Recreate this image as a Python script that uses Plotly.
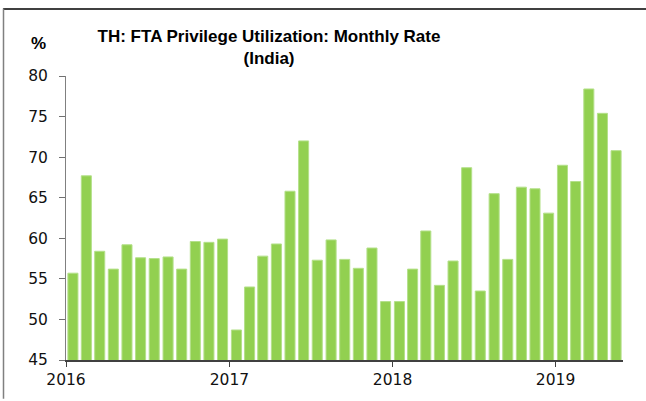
import plotly.graph_objects as go

months = [
    "2016-01", "2016-02", "2016-03", "2016-04", "2016-05", "2016-06",
    "2016-07", "2016-08", "2016-09", "2016-10", "2016-11", "2016-12",
    "2017-01", "2017-02", "2017-03", "2017-04", "2017-05", "2017-06",
    "2017-07", "2017-08", "2017-09", "2017-10", "2017-11", "2017-12",
    "2018-01", "2018-02", "2018-03", "2018-04", "2018-05", "2018-06",
    "2018-07", "2018-08", "2018-09", "2018-10", "2018-11", "2018-12",
    "2019-01", "2019-02", "2019-03", "2019-04", "2019-05",
]
rate = [
    55.7, 67.7, 58.4, 56.2, 59.2, 57.6, 57.5, 57.7, 56.2, 59.6, 59.5, 59.9,
    48.7, 54.0, 57.8, 59.3, 65.8, 72.0, 57.3, 59.8, 57.4, 56.3, 58.8, 52.2,
    52.2, 56.2, 60.9, 54.2, 57.2, 68.7, 53.5, 65.5, 57.4, 66.3, 66.1, 63.1,
    69.0, 67.0, 78.4, 75.4, 70.8,
]
year_ticks = ["2016-01-01", "2017-01-01", "2018-01-01", "2019-01-01"]
year_labels = ["2016", "2017", "2018", "2019"]

W, H = 646, 401
L, R, T, B = 66, 23, 76, 39
pw, ph = W - L - R, H - T - B

def px_x(px):
    return (px - L) / pw

def px_y(py):
    return (H - B - py) / ph

tick_font = dict(family="DejaVu Sans, Arial, sans-serif", size=15.5, color="#111111")

fig = go.Figure()
fig.add_trace(go.Bar(
    x=months,
    y=rate,
    xperiod="M1",
    xperiodalignment="middle",
    width=22.5 * 86400000,
    marker=dict(color="#92D050", line=dict(color="#B4E08A", width=1)),
    hoverinfo="x+y",
))

fig.update_layout(
    width=W, height=H,
    margin=dict(l=L, r=R, t=T, b=B),
    paper_bgcolor="white",
    plot_bgcolor="white",
    showlegend=False,
    font=dict(family="Liberation Sans, Arial, sans-serif", size=16, color="#111111"),
    title=dict(
        text="<b>TH: FTA Privilege Utilization: Monthly Rate<br>(India)</b>",
        x=269 / W, xanchor="center", xref="container",
        y=1 - 42 / H, yanchor="top", yref="container",
        font=dict(family="Liberation Sans, Arial, sans-serif", size=17, color="#000000"),
    ),
    xaxis=dict(
        type="date",
        range=["2016-01-01", "2019-06-01"],
        tickvals=year_ticks,
        ticktext=year_labels,
        ticks="outside", ticklen=5, tickcolor="#404040", tickwidth=1,
        showline=True, linecolor="#404040", linewidth=1.5,
        showgrid=False, zeroline=False,
        tickfont=tick_font,
    ),
    yaxis=dict(
        range=[45, 80],
        dtick=5,
        ticks="outside", ticklen=6, tickcolor="#707070", tickwidth=1,
        showline=True, linecolor="#808080", linewidth=1,
        showgrid=False, zeroline=False,
        ticklabelstandoff=8,
        tickfont=tick_font,
    ),
    annotations=[
        dict(text="<b>%</b>", xref="paper", yref="paper",
             x=px_x(38), y=px_y(43), xanchor="center", yanchor="middle",
             showarrow=False,
             font=dict(family="Liberation Sans, Arial, sans-serif", size=17, color="#000000")),
    ],
    shapes=[
        dict(type="line", xref="paper", yref="paper",
             x0=px_x(3), x1=px_x(646), y0=px_y(8.5), y1=px_y(8.5),
             line=dict(color="#404040", width=2)),
        dict(type="line", xref="paper", yref="paper",
             x0=px_x(3.5), x1=px_x(3.5), y0=px_y(8), y1=px_y(401),
             line=dict(color="#808080", width=1.5)),
    ],
)

fig.write_html(
    "out.html",
    config={"displayModeBar": False},
    post_script="document.body.style.margin='0';document.body.style.overflow='hidden';",
)
